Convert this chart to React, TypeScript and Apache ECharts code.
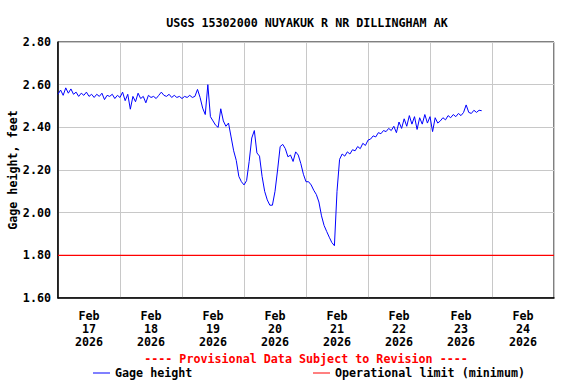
import React, { useEffect, useRef } from "react";
import * as echarts from "echarts";

const chartTitle = "USGS 15302000 NUYAKUK R NR DILLINGHAM AK";
const yAxisName = "Gage height, feet";
const provisionalNote = "---- Provisional Data Subject to Revision ----";
const seriesNames = ["Gage height", "Operational limit (minimum)"];
const dayLabels = [
  "Feb\n17\n2026",
  "Feb\n18\n2026",
  "Feb\n19\n2026",
  "Feb\n20\n2026",
  "Feb\n21\n2026",
  "Feb\n22\n2026",
  "Feb\n23\n2026",
  "Feb\n24\n2026",
];
// hours since Feb 17 2026 00:00, axis range
const hoursStart = 0;
const hoursEnd = 192;
const hoursPerDay = 24;
const yMin = 1.6;
const yMax = 2.8;
const yStep = 0.2;
const operationalLimit = 1.8;

// hourly gage height (feet), starting Feb 17 00:00
const gageHeight = [
  2.555, 2.575, 2.55, 2.585, 2.56, 2.58, 2.555, 2.565, 2.545, 2.56,
  2.55, 2.565, 2.545, 2.555, 2.54, 2.555, 2.545, 2.56, 2.53, 2.55,
  2.545, 2.555, 2.535, 2.55, 2.54, 2.565, 2.525, 2.555, 2.485, 2.545,
  2.52, 2.56, 2.535, 2.545, 2.515, 2.55, 2.54, 2.545, 2.535, 2.55,
  2.565, 2.55, 2.545, 2.555, 2.54, 2.55, 2.54, 2.545, 2.535, 2.545,
  2.54, 2.55, 2.54, 2.545, 2.578, 2.54, 2.49, 2.46, 2.6, 2.45,
  2.43, 2.41, 2.4, 2.487, 2.43, 2.405, 2.42, 2.355, 2.29, 2.245,
  2.17, 2.145, 2.13, 2.15, 2.24, 2.35, 2.385, 2.28, 2.265, 2.17,
  2.1, 2.06, 2.035, 2.035, 2.1, 2.2, 2.31, 2.32, 2.3, 2.262,
  2.27, 2.24, 2.285, 2.27, 2.23, 2.18, 2.145, 2.145, 2.13, 2.105,
  2.085, 2.05, 1.985, 1.94, 1.912, 1.885, 1.86, 1.845, 2.1, 2.25,
  2.275, 2.265, 2.285, 2.275, 2.295, 2.29, 2.31, 2.3, 2.325, 2.315,
  2.34, 2.345, 2.36, 2.355, 2.375, 2.37, 2.385, 2.38, 2.395, 2.385,
  2.405, 2.375, 2.425, 2.395, 2.44, 2.405, 2.455, 2.415, 2.45, 2.39,
  2.445, 2.415, 2.46, 2.42, 2.45, 2.38, 2.445, 2.42, 2.43, 2.445,
  2.435, 2.455, 2.445, 2.46, 2.45, 2.465, 2.455, 2.47, 2.505, 2.47,
  2.465, 2.48, 2.47, 2.48, 2.478,
];

const FONT = "DejaVu Sans Mono";
const FS = 11.7;

export default function App() {
  const ref = useRef<HTMLDivElement>(null);
  useEffect(() => {
    if (!ref.current) return;
    const chart = echarts.init(ref.current, null, { renderer: "svg" });
    const textBase = { fontFamily: FONT, fontWeight: "bold" as const, fontSize: FS, color: "#000" };
    chart.setOption({
      animation: false,
      backgroundColor: "#fff",
      title: {
        text: chartTitle,
        left: 302,
        top: 12,
        textAlign: "center",
        textStyle: { ...textBase },
      },
      grid: {
        left: 58,
        right: 22,
        top: 42,
        bottom: 86,
        show: true,
        borderColor: "#000",
        borderWidth: 1,
        backgroundColor: "#fff",
        containLabel: false,
        outerBoundsMode: "none",
      },
      legend: [
        {
          data: [seriesNames[0]],
          left: 93,
          top: 367,
          icon: "rect",
          itemWidth: 17,
          itemHeight: 1,
          padding: 0,
          textStyle: { ...textBase },
          selectedMode: false,
        },
        {
          data: [seriesNames[1]],
          left: 313,
          top: 367,
          icon: "rect",
          itemWidth: 17,
          itemHeight: 1,
          padding: 0,
          textStyle: { ...textBase },
          selectedMode: false,
        },
      ],
      xAxis: [
        {
          type: "value",
          min: hoursStart,
          max: hoursEnd,
          interval: hoursPerDay,
          axisLine: { show: true, lineStyle: { color: "#000", width: 1.5 } },
          axisTick: { show: false },
          axisLabel: { show: false },
          splitLine: { show: true, lineStyle: { color: "#c8c8c8", width: 1 } },
        },
        {
          type: "category",
          data: dayLabels,
          position: "bottom",
          boundaryGap: true,
          axisLine: { show: false },
          axisTick: { show: false },
          splitLine: { show: false },
          axisLabel: { ...textBase, lineHeight: 13, margin: 11, interval: 0 },
        },
      ],
      yAxis: {
        type: "value",
        min: yMin,
        max: yMax,
        interval: yStep,
        axisLine: { show: true, lineStyle: { color: "#000", width: 1.5 } },
        axisTick: { show: false },
        axisLabel: { ...textBase, margin: 7, formatter: (v: number) => v.toFixed(2) },
        splitLine: { show: true, lineStyle: { color: "#c8c8c8", width: 1 } },
      },
      graphic: [
        {
          type: "text",
          x: 13,
          y: 170,
          rotation: Math.PI / 2,
          style: {
            text: yAxisName,
            fill: "#000",
            font: `bold ${FS}px ${FONT}`,
            textAlign: "center",
            textVerticalAlign: "middle",
          },
        },
        {
          type: "text",
          x: 306,
          y: 359,
          style: {
            text: provisionalNote,
            fill: "#ff0000",
            font: `bold ${FS}px ${FONT}`,
            textAlign: "center",
            textVerticalAlign: "middle",
          },
        },
      ],
      series: [
        {
          name: seriesNames[0],
          type: "line",
          xAxisIndex: 0,
          showSymbol: false,
          symbol: "none",
          data: gageHeight.map((v, i) => [hoursStart + i, v]),
          lineStyle: { color: "#0000ff", width: 1 },
          itemStyle: { color: "#0000ff" },
          z: 3,
        },
        {
          name: seriesNames[1],
          type: "line",
          xAxisIndex: 0,
          showSymbol: false,
          symbol: "none",
          data: [
            [hoursStart, operationalLimit],
            [hoursEnd, operationalLimit],
          ],
          lineStyle: { color: "#ff0000", width: 1.3 },
          itemStyle: { color: "#ff0000" },
          z: 2,
        },
      ],
    });
    return () => chart.dispose();
  }, []);
  return (
    <div
      ref={ref}
      style={{ position: "absolute", left: 0, top: 0, width: 576, height: 384, background: "#fff" }}
    />
  );
}
